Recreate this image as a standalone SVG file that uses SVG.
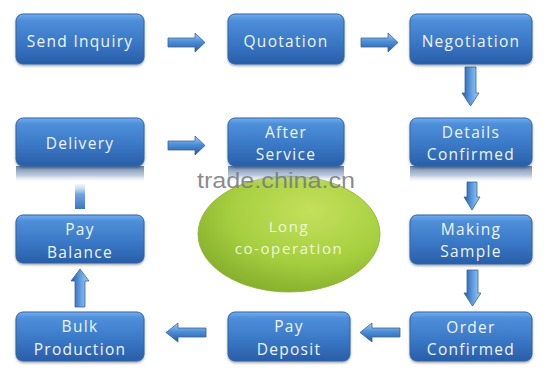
<svg xmlns="http://www.w3.org/2000/svg" width="554" height="378" viewBox="0 0 554 378">
<defs>
<linearGradient id="gBox" x1="0" y1="0" x2="0" y2="1">
<stop offset="0" stop-color="#74aef0"/>
<stop offset="0.12" stop-color="#4f8fda"/>
<stop offset="0.6" stop-color="#3876c4"/>
<stop offset="1" stop-color="#295ea8"/>
</linearGradient>
<linearGradient id="gRefl" x1="0" y1="0" x2="0" y2="1">
<stop offset="0" stop-color="#4f6f9a" stop-opacity="0.85"/>
<stop offset="0.55" stop-color="#8ea6c6" stop-opacity="0.6"/>
<stop offset="1" stop-color="#ffffff" stop-opacity="0"/>
</linearGradient>
<linearGradient id="gArrH" x1="0" y1="0" x2="0" y2="1">
<stop offset="0" stop-color="#a6d0f5"/>
<stop offset="0.45" stop-color="#4d8ed8"/>
<stop offset="1" stop-color="#275a9c"/>
</linearGradient>
<linearGradient id="gArrV" x1="0" y1="0" x2="1" y2="0">
<stop offset="0" stop-color="#275a9c"/>
<stop offset="0.5" stop-color="#5c9be0"/>
<stop offset="1" stop-color="#a6d0f5"/>
</linearGradient>
<linearGradient id="gStub" x1="0" y1="1" x2="0" y2="0">
<stop offset="0" stop-color="#3a78c4"/>
<stop offset="0.6" stop-color="#6fa6e0"/>
<stop offset="1" stop-color="#cfe0f2" stop-opacity="0.3"/>
</linearGradient>
<radialGradient id="gEll" cx="0.62" cy="0.3" r="0.8">
<stop offset="0" stop-color="#c4e05c"/>
<stop offset="0.55" stop-color="#a6cf40"/>
<stop offset="1" stop-color="#7fa828"/>
</radialGradient>
<filter id="sh" x="-10%" y="-10%" width="120%" height="130%">
<feDropShadow dx="0" dy="1.5" stdDeviation="1.2" flood-color="#000" flood-opacity="0.35"/>
</filter>
</defs>
<style>
.box{fill:url(#gBox);stroke:#2e63a6;stroke-width:1;filter:url(#sh)}
.t{font-family:"Open Sans","Noto Sans",sans-serif;font-size:15.5px;letter-spacing:1.3px;fill:#eef4fb;text-anchor:middle}
.lt{font-family:"Open Sans","Noto Sans",sans-serif;font-size:15px;letter-spacing:1.6px;fill:#eef6dc;text-anchor:middle}
.ah{fill:url(#gArrH);stroke:#3a6598;stroke-width:0.8}
.av{fill:url(#gArrV);stroke:#3a6598;stroke-width:0.8}
.refl{fill:url(#gRefl)}
</style>
<rect width="554" height="378" fill="#ffffff"/>

<g id="long-cooperation">
<ellipse cx="289" cy="234" rx="91" ry="58" fill="url(#gEll)" stroke="#8bb02e" stroke-width="0.8"/>
<text class="lt" x="289" y="232">Long</text>
<text class="lt" x="289" y="254">co-operation</text>
</g>

<g id="reflections">
<rect class="refl" x="16" y="166" width="128" height="17"/>
<rect class="refl" x="228" y="166" width="116" height="17"/>
<rect class="refl" x="410" y="166" width="122" height="17"/>
</g>

<g id="connectors">
<polygon class="ah" points="168,38 195,38 195,33 205,42.5 195,52 195,47 168,47"/>
<polygon class="ah" points="361,38 388,38 388,33 398,42.5 388,52 388,47 361,47"/>
<polygon class="av" points="465,67 476,67 476,93 479,93 470.5,106 462,93 465,93"/>
<polygon class="ah" points="168,141 195,141 195,136 205,145.5 195,155 195,150 168,150"/>
<polygon fill="url(#gStub)" points="75,184 85,184 85,209 75,209"/>
<polygon class="av" points="467,182 477,182 477,197 480,197 472,210 464,197 467,197"/>
<polygon class="av" points="467,270 478,270 478,293 481,293 472.5,306 464,293 467,293"/>
<polygon class="ah" points="400,328 372,328 372,323 360,332.5 372,342 372,337 400,337"/>
<polygon class="ah" points="206,328 178,328 178,323 166,332.5 178,342 178,337 206,337"/>
<polygon class="av" points="75,307 85,307 85,281 89,281 80,269 71,281 75,281"/>
</g>

<g id="send-inquiry"><rect class="box" x="16" y="14" width="128" height="50" rx="7"/><text class="t" x="80" y="47">Send Inquiry</text></g>
<g id="quotation"><rect class="box" x="228" y="14" width="116" height="50" rx="7"/><text class="t" x="286" y="47">Quotation</text></g>
<g id="negotiation"><rect class="box" x="410" y="14" width="122" height="50" rx="7"/><text class="t" x="471" y="47">Negotiation</text></g>
<g id="delivery"><rect class="box" x="16" y="118" width="128" height="48" rx="7"/><text class="t" x="80" y="149">Delivery</text></g>
<g id="after-service"><rect class="box" x="228" y="118" width="116" height="48" rx="7"/><text class="t" x="286" y="138">After</text><text class="t" x="286" y="160">Service</text></g>
<g id="details-confirmed"><rect class="box" x="410" y="118" width="122" height="48" rx="7"/><text class="t" x="471" y="138">Details</text><text class="t" x="471" y="160">Confirmed</text></g>
<g id="pay-balance"><rect class="box" x="16" y="215" width="128" height="48" rx="7"/><text class="t" x="80" y="235">Pay</text><text class="t" x="80" y="258">Balance</text></g>
<g id="making-sample"><rect class="box" x="410" y="215" width="122" height="49" rx="7"/><text class="t" x="471" y="235">Making</text><text class="t" x="471" y="257">Sample</text></g>
<g id="bulk-production"><rect class="box" x="16" y="312" width="128" height="49" rx="7"/><text class="t" x="80" y="332">Bulk</text><text class="t" x="80" y="355">Production</text></g>
<g id="pay-deposit"><rect class="box" x="228" y="312" width="122" height="49" rx="7"/><text class="t" x="289" y="332">Pay</text><text class="t" x="289" y="355">Deposit</text></g>
<g id="order-confirmed"><rect class="box" x="410" y="312" width="122" height="49" rx="7"/><text class="t" x="471" y="333">Order</text><text class="t" x="471" y="355">Confirmed</text></g>

<text x="197" y="188" font-family="Liberation Sans, Arial, sans-serif" font-size="22" fill="#777777" fill-opacity="0.85" textLength="158" lengthAdjust="spacingAndGlyphs">trade.china.cn</text>
</svg>
